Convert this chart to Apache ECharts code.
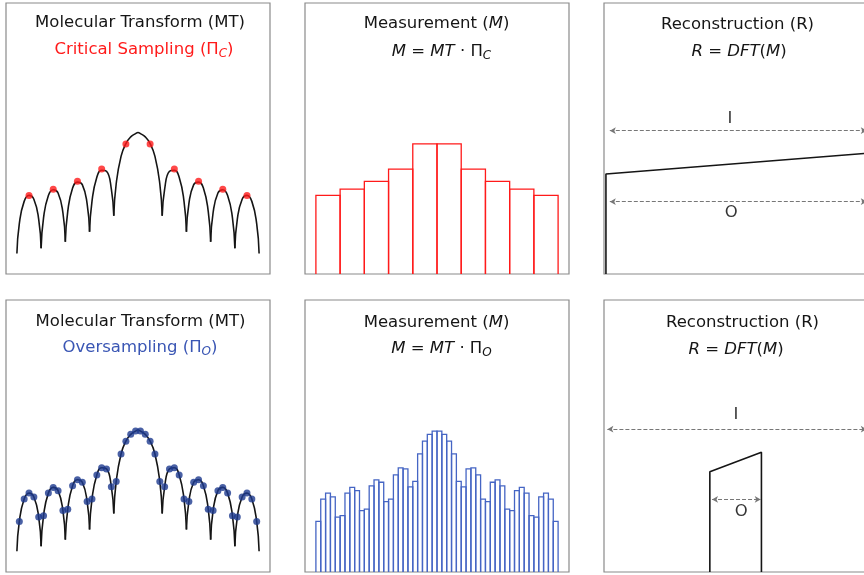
<!DOCTYPE html>
<html><head><meta charset="utf-8">
<script src="https://cdn.jsdelivr.net/npm/echarts@6/dist/echarts.min.js"></script>
<style>html,body{margin:0;padding:0;background:#fff}#c{width:864px;height:575px}</style>
</head><body><div id="c"></div>
<script>
// ---- data (x in sample units, y in arbitrary intensity units) ----
const mtCuspX = [-5, -4, -3, -2, -1, 1, 2, 3, 4, 5];
const mtCuspY = [0.76, 0.95, 1.19, 1.56, 2.15, 2.15, 1.56, 1.19, 0.95, 0.76];
const mtPeakX = [0];
const mtPeakY = [5.22];

const critX = [-4.5, -3.5, -2.5, -1.5, -0.5, 0.5, 1.5, 2.5, 3.5, 4.5];
const critY = [2.90, 3.13, 3.42, 3.87, 4.80, 4.80, 3.87, 3.42, 3.13, 2.90];

const overX = [-4.9, -4.7, -4.5, -4.3, -4.1, -3.9, -3.7, -3.5, -3.3, -3.1,
               -2.9, -2.7, -2.5, -2.3, -2.1, -1.9, -1.7, -1.5, -1.3, -1.1,
               -0.9, -0.7, -0.5, -0.3, -0.1, 0.1, 0.3, 0.5, 0.7, 0.9,
               1.1, 1.3, 1.5, 1.7, 1.9, 2.1, 2.3, 2.5, 2.7, 2.9,
               3.1, 3.3, 3.5, 3.7, 3.9, 4.1, 4.3, 4.5, 4.7, 4.9];
const overY = [1.86, 2.68, 2.90, 2.76, 2.02, 2.07, 2.90, 3.11, 2.99, 2.26,
               2.31, 3.17, 3.39, 3.30, 2.59, 2.68, 3.57, 3.83, 3.79, 3.13,
               3.33, 4.34, 4.81, 5.06, 5.18, 5.18, 5.06, 4.81, 4.34, 3.33,
               3.13, 3.79, 3.83, 3.57, 2.68, 2.59, 3.30, 3.39, 3.17, 2.31,
               2.26, 2.99, 3.11, 2.90, 2.07, 2.02, 2.76, 2.90, 2.68, 1.86];

const recCritX = [-5.37, -5.37, 5.45];
const recCritY = [0, 3.69, 4.46];
const recOverX = [-1.08, -1.08, 1.05, 1.05];
const recOverY = [0, 3.69, 4.40, 0];

// ---- styling ----
const FONT = 'DejaVu Sans';
const FS = 16.5;
const RED = '#ff1a1a';
const BLUE_TXT = '#3a56b4';
const BLUE_DOT = '#1d3a8f';
const BLUE_BAR = '#4565c4';
const INK = '#151515';

const pairs = (xs, ys) => xs.map((x, i) => [x, ys[i]]);

function lobes() {
  const pts = pairs(mtCuspX, mtCuspY).concat(pairs(overX, overY), pairs(mtPeakX, mtPeakY));
  pts.sort((a, b) => a[0] - b[0]);
  const out = [];
  for (let k = 0; k < mtCuspX.length - 1; k++) {
    const a = mtCuspX[k], b = mtCuspX[k + 1];
    out.push(pts.filter(p => p[0] >= a - 1e-9 && p[0] <= b + 1e-9));
  }
  return out;
}

const panels = [
  {left: 6, top: 3, height: 271}, {left: 305, top: 3, height: 271}, {left: 604, top: 3, height: 271},
  {left: 6, top: 300, height: 272}, {left: 305, top: 300, height: 272}, {left: 604, top: 300, height: 272}
];

const series = [];
function curve(g) {
  lobes().forEach(d => series.push({
    type: 'line', xAxisIndex: g, yAxisIndex: g, data: d, smooth: 0.5,
    symbol: 'none', silent: true, lineStyle: {color: INK, width: 1.6}, z: 2
  }));
}
function bars(g, xs, ys, w, color) {
  series.push({
    type: 'custom', xAxisIndex: g, yAxisIndex: g, data: pairs(xs, ys), silent: true,
    encode: {x: 0, y: 1},
    renderItem: (params, api) => {
      const x = api.value(0), y = api.value(1);
      const a = api.coord([x - w / 2, 0]), b = api.coord([x - w / 2, y]);
      const c = api.coord([x + w / 2, y]), d = api.coord([x + w / 2, 0]);
      return {type: 'polyline', shape: {points: [a, b, c, d]},
              style: {fill: 'none', stroke: color, lineWidth: 1.3}};
    }
  });
}
function arrows(list) {
  return {
    silent: true, symbol: ['arrow', 'arrow'], symbolSize: [5, 6], animation: false,
    label: {show: false},
    lineStyle: {type: [4, 2], color: '#777', width: 1},
    data: list.map(l => [{coord: [l[0], l[2]]}, {coord: [l[1], l[2]]}])
  };
}
function labels(g, list) {
  series.push({
    type: 'scatter', xAxisIndex: g, yAxisIndex: g, silent: true, symbolSize: 1,
    itemStyle: {color: 'rgba(0,0,0,0)'},
    data: list, z: 5,
    label: {show: true, position: 'inside', formatter: p => p.data[2],
            fontFamily: FONT, fontSize: FS, color: '#000', textBorderWidth: 0}
  });
}

// Panel 1 (critical MT)
curve(0);
series.push({type: 'scatter', xAxisIndex: 0, yAxisIndex: 0, data: pairs(critX, critY), symbolSize: 7,
  itemStyle: {color: RED}, silent: true, z: 3});
// Panel 2
bars(1, critX, critY, 1.0, RED);
// Panel 3
series.push({type: 'line', xAxisIndex: 2, yAxisIndex: 2, data: pairs(recCritX, recCritY), symbol: 'none',
  silent: true, lineStyle: {color: INK, width: 1.6},
  markLine: arrows([[-5.21, 5.4, 5.29], [-5.21, 5.4, 2.67]])});
labels(2, [[-0.25, 5.72, 'I'], [-0.2, 2.25, 'O']]);
// Panel 4 (oversampled MT)
curve(3);
series.push({type: 'scatter', xAxisIndex: 3, yAxisIndex: 3, data: pairs(overX, overY), symbolSize: 7,
  itemStyle: {color: BLUE_DOT}, silent: true, z: 3});
// Panel 5
bars(4, overX, overY, 0.2, BLUE_BAR);
// Panel 6
series.push({type: 'line', xAxisIndex: 5, yAxisIndex: 5, data: pairs(recOverX, recOverY), symbol: 'none',
  silent: true, lineStyle: {color: INK, width: 1.6},
  markLine: arrows([[-5.31, 5.4, 5.25], [-0.99, 1.02, 2.67]])});
labels(5, [[0, 5.77, 'I'], [0.22, 2.22, 'O']]);

const rich = {
  n: {fontFamily: FONT, fontSize: FS, fill: INK},
  i: {fontFamily: FONT, fontSize: FS, fontStyle: 'italic', fill: INK},
  s: {fontFamily: FONT, fontSize: 12, fontStyle: 'italic', fill: INK, padding: [8, 0, 0, 0]},
  r: {fontFamily: FONT, fontSize: FS, fill: RED},
  rs: {fontFamily: FONT, fontSize: 12, fontStyle: 'italic', fill: RED, padding: [8, 0, 0, 0]},
  b: {fontFamily: FONT, fontSize: FS, fill: BLUE_TXT},
  bs: {fontFamily: FONT, fontSize: 12, fontStyle: 'italic', fill: BLUE_TXT, padding: [8, 0, 0, 0]}
};
const titles = [
  [140, 23, '{n|Molecular Transform (MT)}'],
  [144, 50, '{r|Critical Sampling (Π}{rs|C}{r|)}'],
  [436.5, 24, '{n|Measurement (}{i|M}{n|)}'],
  [441.5, 52, '{i|M}{n| = }{i|MT}{n| · Π}{s|C}'],
  [737.5, 25, '{n|Reconstruction (R)}'],
  [739, 52, '{i|R}{n| = }{i|DFT}{n|(}{i|M}{n|)}'],
  [140.5, 322, '{n|Molecular Transform (MT)}'],
  [140, 348, '{b|Oversampling (Π}{bs|O}{b|)}'],
  [436.5, 323, '{n|Measurement (}{i|M}{n|)}'],
  [441.5, 349, '{i|M}{n| = }{i|MT}{n| · Π}{s|O}'],
  [742.5, 323, '{n|Reconstruction (R)}'],
  [736, 350, '{i|R}{n| = }{i|DFT}{n|(}{i|M}{n|)}']
];

const chart = echarts.init(document.getElementById('c'), null, {renderer: 'canvas'});
chart.setOption({
  animation: false,
  backgroundColor: '#fff',
  grid: panels.map(p => ({left: p.left, top: p.top, width: 264, height: p.height, show: true,
    borderColor: '#8a8a8a', borderWidth: 1.2, backgroundColor: 'transparent',
    containLabel: false, outerBoundsMode: 'none'})),
  xAxis: panels.map((p, i) => ({type: 'value', gridIndex: i, min: -5.45, max: 5.45, show: false})),
  yAxis: panels.map((p, i) => ({type: 'value', gridIndex: i, min: 0, max: 10, show: false})),
  series: series,
  graphic: titles.map(t => ({type: 'text', x: t[0], y: t[1], silent: true,
    style: {text: t[2], rich: rich, align: 'center', verticalAlign: 'middle',
            fontFamily: FONT, fontSize: FS, fill: INK}}))
});
</script></body></html>
